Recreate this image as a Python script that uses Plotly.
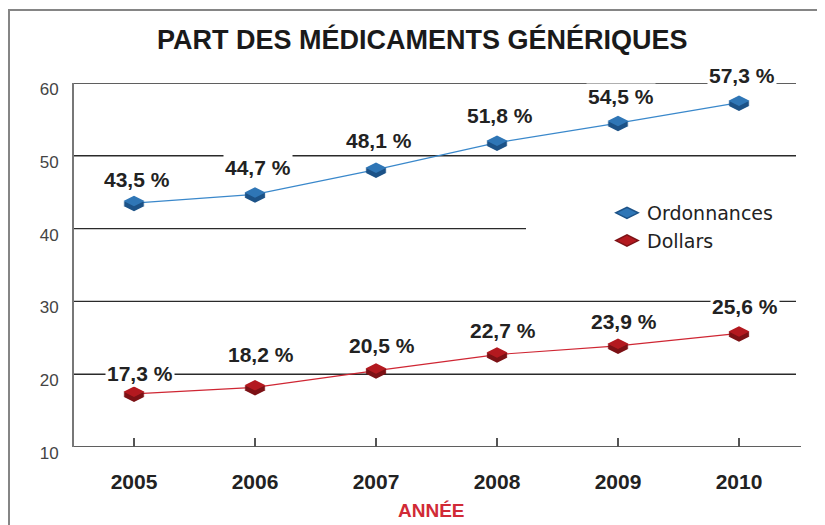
import plotly.graph_objects as go

# ---------------- data ----------------
years = [2005, 2006, 2007, 2008, 2009, 2010]
ordonnances = [43.5, 44.7, 48.1, 51.8, 54.5, 57.3]
dollars = [17.3, 18.2, 20.5, 22.7, 23.9, 25.6]
y_ticks = [10, 20, 30, 40, 50, 60]
series_names = ["Ordonnances", "Dollars"]
title_text = "PART DES MÉDICAMENTS GÉNÉRIQUES"
x_title_text = "ANNÉE"


def fmt(v):
    return f"{v:.1f}".replace(".", ",") + " %"


# ---------------- layout constants (pixels, in screenshot coords) ----------------
OFF = 8                       # page body margin in the browser
SW, SH = 825, 525             # screenshot size
W, H = SW - OFF, SH - OFF     # figure size
PL, PR, PT, PB = 74, 796, 83, 447   # plot box in screenshot pixels
ML, MT = PL - OFF, PT - OFF
MR = W - (PR - OFF)
MB = H - (PB - OFF)
PW = PR - PL
PH = PB - PT
Y0, Y1 = 10, 60
YEAR_PX = 121.0
X0 = years[0] - (134 - PL) / YEAR_PX
X1 = X0 + PW / YEAR_PX
UNIT_PER_PX = (Y1 - Y0) / PH


def paper_x(px):
    return (px - PL) / PW


def paper_y(py):
    return (PB - py) / PH


# style
BLUE_TOP, BLUE_SIDE, BLUE_LINE = "#2f76b6", "#1c5287", "#3a88cb"
RED_TOP, RED_SIDE, RED_LINE = "#b3191f", "#7c1115", "#cf2633"
TEXT = "#222222"
FONT_B = "Liberation Sans, Arial, sans-serif"
FONT_R = "Liberation Sans, Arial, sans-serif"
FONT_LEG = "DejaVu Sans, sans-serif"
MSIZE = 15

# label offsets (px) per point
ord_label_dy = [24, 27, 29, 27, 27, 27]
dol_label_dy = [20, 33, 25, 24, 24, 27]
ord_label_dx = 3
dol_label_dx = 6

fig = go.Figure()


def add_series(vals, name, top, side, line, group):
    fig.add_trace(go.Scatter(x=years, y=vals, mode="lines",
                             line=dict(color=line, width=1.2),
                             showlegend=False, hoverinfo="skip"))
    sx, sy = [], []
    for k in range(1, 6):
        for xv, v in zip(years, vals):
            sx.append(xv)
            sy.append(v + (2 - k) * UNIT_PER_PX)
    fig.add_trace(go.Scatter(x=sx, y=sy, mode="markers",
                             marker=dict(symbol="diamond-wide", size=MSIZE, color=side,
                                         line=dict(width=0)),
                             showlegend=False, hoverinfo="skip"))
    fig.add_trace(go.Scatter(x=years, y=[v + 2 * UNIT_PER_PX for v in vals], mode="markers",
                             marker=dict(symbol="diamond-wide", size=MSIZE, color=top,
                                         line=dict(width=0)),
                             showlegend=False, hoverinfo="skip"))
    fig.add_trace(go.Scatter(x=[None], y=[None], mode="markers", name=name,
                             legendgroup=group,
                             marker=dict(symbol="diamond-wide", size=16, color=top,
                                         line=dict(color=side, width=1.5))))


add_series(ordonnances, series_names[0], BLUE_TOP, BLUE_SIDE, BLUE_LINE, "o")
add_series(dollars, series_names[1], RED_TOP, RED_SIDE, RED_LINE, "d")

annotations = []
for vals, dys, dx in ((ordonnances, ord_label_dy, ord_label_dx),
                      (dollars, dol_label_dy, dol_label_dx)):
    for xv, v, dy in zip(years, vals, dys):
        annotations.append(dict(x=xv, y=v, xref="x", yref="y", text=fmt(v),
                                showarrow=False, xshift=dx, yshift=dy,
                                yanchor="middle", xanchor="center",
                                bgcolor="white", borderpad=1,
                                font=dict(family=FONT_B, size=21, color=TEXT, weight="bold")))

annotations.append(dict(x=paper_x(422.5), y=paper_y(40), xref="paper", yref="paper",
                        text=title_text, showarrow=False, xanchor="center", yanchor="middle",
                        font=dict(family=FONT_B, size=27, color="#1a1a1a", weight="bold")))
annotations.append(dict(x=paper_x(431.5), y=paper_y(510), xref="paper", yref="paper",
                        text=x_title_text, showarrow=False, xanchor="center", yanchor="middle",
                        font=dict(family=FONT_B, size=19, color="#d12a36", weight="bold")))

grid_end = {40: paper_x(526), 10: paper_x(801)}
shapes = []
for t in y_ticks:
    shapes.append(dict(type="line", xref="paper", yref="y", x0=0, x1=grid_end.get(t, 1.0),
                       y0=t, y1=t, layer="below",
                       line=dict(color="#2a2a2a", width=1.4)))
FRAME = "#858585"
shapes.append(dict(type="line", xref="paper", yref="paper", x0=paper_x(9), x1=paper_x(9),
                   y0=paper_y(SH + 5), y1=paper_y(10), line=dict(color=FRAME, width=2)))
shapes.append(dict(type="line", xref="paper", yref="paper", x0=paper_x(8), x1=paper_x(SW + 5),
                   y0=paper_y(10), y1=paper_y(10), line=dict(color=FRAME, width=2)))

fig.update_layout(
    width=W, height=H,
    margin=dict(l=ML, r=MR, t=MT, b=MB, pad=0),
    paper_bgcolor="white", plot_bgcolor="white",
    showlegend=True,
    legend=dict(x=paper_x(607), y=paper_y(194), xanchor="left", yanchor="top",
                font=dict(family=FONT_LEG, size=19, color=TEXT),
                bgcolor="rgba(0,0,0,0)", tracegroupgap=3, traceorder="normal"),
    annotations=annotations,
    shapes=shapes,
    xaxis=dict(range=[X0, X1], tickvals=years, ticktext=[str(y) for y in years],
               ticks="inside", ticklen=9, tickwidth=1.5, tickcolor="#555555",
               showgrid=False, zeroline=False, showline=False,
               tickfont=dict(family=FONT_B, size=21, color=TEXT, weight="bold"),
               ticklabelstandoff=20, fixedrange=True),
    yaxis=dict(range=[Y0, Y1], tickvals=y_ticks, ticks="",
               showgrid=False, zeroline=False, showline=True,
               linecolor="#777777", linewidth=2,
               tickfont=dict(family=FONT_R, size=17, color="#444444"),
               ticklabelstandoff=10, ticklabelshift=6, fixedrange=True),
)

fig.write_html("out.html")
